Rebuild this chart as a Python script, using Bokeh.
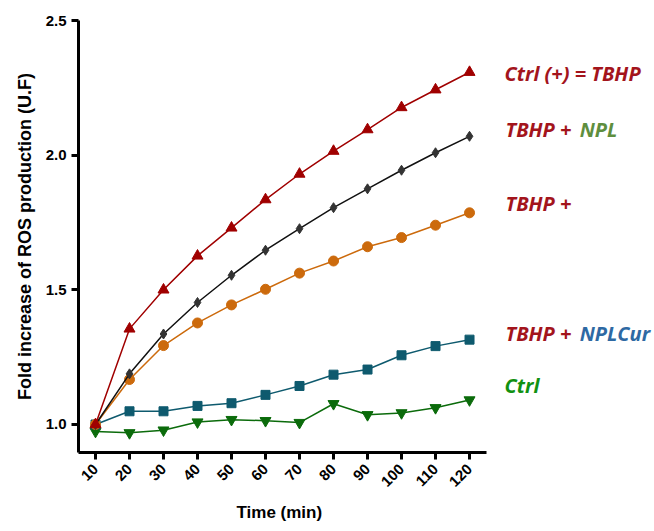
import math
from bokeh.plotting import figure
from bokeh.models import Range1d, Label, FixedTicker, PrintfTickFormatter, Title
from bokeh.embed import file_html
from bokeh.resources import INLINE

# ---- data ----
time_min = [10, 20, 30, 40, 50, 60, 70, 80, 90, 100, 110, 120]
ctrl_pos_tbhp = [1.00, 1.355, 1.500, 1.626, 1.730, 1.835, 1.930, 2.015, 2.095, 2.177, 2.243, 2.308]
tbhp_npl = [1.00, 1.188, 1.336, 1.453, 1.554, 1.647, 1.727, 1.805, 1.875, 1.944, 2.009, 2.070]
tbhp_plus = [1.00, 1.167, 1.293, 1.377, 1.444, 1.502, 1.562, 1.607, 1.660, 1.694, 1.740, 1.786]
tbhp_nplcur = [1.00, 1.049, 1.049, 1.069, 1.079, 1.110, 1.143, 1.185, 1.204, 1.257, 1.291, 1.315]
ctrl = [0.974, 0.969, 0.979, 1.009, 1.018, 1.014, 1.007, 1.077, 1.036, 1.043, 1.062, 1.091]

x_ticks = [10, 20, 30, 40, 50, 60, 70, 80, 90, 100, 110, 120]
y_ticks = [1.0, 1.5, 2.0, 2.5]

p = figure(width=654, height=531, output_backend="svg", toolbar_location=None,
           x_range=Range1d(5, 174.4), y_range=Range1d(0.896, 2.5),
           min_border_left=78, min_border_right=0, min_border_top=20, min_border_bottom=79)
p.outline_line_color = None
p.xgrid.grid_line_color = None
p.ygrid.grid_line_color = None
p.background_fill_color = "white"

for ax in (p.xaxis[0], p.yaxis[0]):
    ax.axis_line_width = 3
    ax.major_tick_line_width = 3
    ax.major_tick_out = 7
    ax.major_tick_in = 0
    ax.minor_tick_line_color = None
    ax.major_label_text_font = "Liberation Sans"
    ax.major_label_text_font_style = "bold"
    ax.major_label_text_font_size = "15px"
    ax.major_label_text_color = "black"
    ax.axis_label_text_font = "Liberation Sans"
    ax.axis_label_text_font_style = "bold"
    ax.axis_label_text_font_size = "18px"
    ax.axis_label_text_color = "black"

p.xaxis.bounds = (5, 125)
p.xaxis.ticker = FixedTicker(ticks=x_ticks)
p.xaxis.major_label_orientation = math.pi / 4
p.xaxis.major_label_standoff = 7

p.yaxis.bounds = (0.896, 2.5)
p.yaxis.ticker = FixedTicker(ticks=y_ticks)
p.yaxis.formatter = PrintfTickFormatter(format="%.1f")
p.yaxis.axis_label = "Fold increase of ROS production (U.F)"
p.yaxis.axis_label_standoff = 8

p.add_layout(Title(text="Time (min)", align="left", offset=158, standoff=16,
                   vertical_align="top",
                   text_font="Liberation Sans", text_font_style="bold",
                   text_font_size="17px", text_color="black",
                   text_line_height=1.0), "below")

series = [
    (ctrl, "#0B6B0B", "inverted_triangle", 11, "#0B6B0B"),
    (tbhp_nplcur, "#0E5A6E", "square", 9, "#0E5A6E"),
    (tbhp_plus, "#CC6A0C", "circle", 10, "#CC6A0C"),
    (tbhp_npl, "#111111", "diamond", 10, "#333333"),
    (ctrl_pos_tbhp, "#A00000", "triangle", 11, "#A00000"),
]
for ys, lc, mk, sz, mc in series:
    p.line(time_min, ys, line_color=lc, line_width=1.5)
    p.scatter(time_min, ys, marker=mk, size=sz, fill_color=mc, line_color=mc)

red = "#A3141C"
lab_font = "Open Sans"
def add_label(x, y, text, color):
    p.add_layout(Label(x=x, y=y, text=text, text_color=color, text_font=lab_font,
                       text_font_style="bold italic", text_font_size="20px",
                       text_baseline="middle", text_align="left"))

add_label(130.3, 2.304, "Ctrl (+) = TBHP", red)
add_label(130.6, 2.096, "TBHP + ", red)
add_label(152.4, 2.096, "NPL", "#5E8E3E")
add_label(130.6, 1.819, "TBHP +", red)
add_label(130.6, 1.337, "TBHP + ", red)
add_label(152.4, 1.337, "NPLCur", "#2E69A3")
add_label(130.3, 1.144, "Ctrl", "#119111")

open("out.html", "w").write(file_html(p, INLINE))
